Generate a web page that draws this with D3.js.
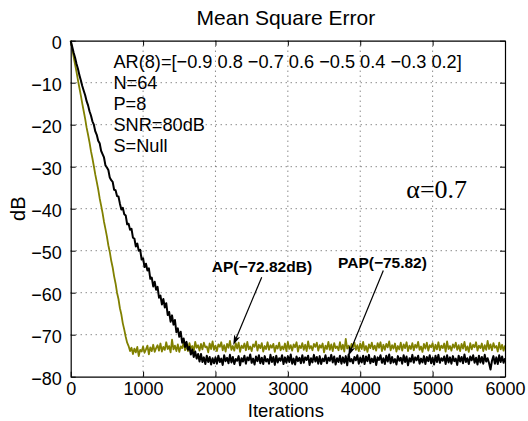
<!DOCTYPE html>
<html>
<head>
<meta charset="utf-8">
<script src="https://cdn.jsdelivr.net/npm/d3@7"></script>
<style>
  html, body { margin: 0; padding: 0; background: #fff; }
  svg { display: block; font-family: "Liberation Sans", Arial, Helvetica, sans-serif; }
</style>
</head>
<body>
<svg id="chart" width="528" height="421"></svg>
<script>
// Learning curves (MSE in dB) of the AP and PAP adaptive filters.
const title = "Mean Square Error";
const xLabel = "Iterations";
const yLabel = "dB";
const xTicks = [0, 1000, 2000, 3000, 4000, 5000, 6000];
const yTicks = [0, -10, -20, -30, -40, -50, -60, -70, -80];
const sampleStep = 20; // iterations between stored samples

// AP learning curve, one sample every 20 iterations (0 .. 6000)
const apMSE = [
  0, -1.9, -3.8, -5.6, -7.4, -9.4, -11.2, -13.0, -15.0, -16.8,
  -18.6, -20.7, -22.4, -24.2, -26.3, -28.0, -29.9, -31.9, -33.6, -35.4,
  -37.5, -39.2, -41.0, -43.1, -44.8, -46.6, -48.7, -50.3, -52.4, -54.0,
  -56.1, -57.8, -60.0, -61.5, -63.7, -65.2, -67.3, -68.8, -70.5, -71.9,
  -72.7, -73.9, -73.1, -74.6, -73.3, -74.2, -72.9, -75.1, -73.6, -74.0,
  -72.8, -74.3, -73.5, -72.6, -74.7, -73.0, -73.9, -72.4, -74.1, -73.2,
  -72.5, -73.8, -72.1, -74.0, -72.9, -73.6, -71.8, -73.4, -72.7, -74.2,
  -71.2, -73.5, -72.6, -73.9, -72.3, -74.1, -72.8, -73.2, -71.9, -73.7,
  -72.4, -73.9, -72.0, -73.3, -72.7, -74.0, -71.7, -73.1, -72.5, -73.8,
  -72.2, -73.5, -71.9, -73.0, -72.8, -74.2, -72.1, -73.4, -71.6, -73.6,
  -72.6, -73.9, -72.3, -72.9, -71.8, -73.7, -72.5, -74.0, -72.2, -73.1,
  -71.5, -73.6, -72.7, -73.8, -72.0, -73.3, -71.9, -74.1, -72.6, -73.2,
  -72.1, -73.7, -71.7, -73.5, -72.8, -73.9, -72.3, -72.9, -71.6, -73.8,
  -72.4, -73.2, -72.0, -74.0, -72.7, -73.4, -71.8, -73.6, -72.5, -73.1,
  -72.2, -74.1, -72.6, -73.3, -71.9, -73.7, -72.8, -73.5, -72.1, -73.9,
  -71.7, -73.4, -72.5, -73.8, -72.3, -73.0, -71.8, -74.0, -72.6, -73.2,
  -72.0, -73.6, -72.4, -73.9, -71.6, -73.3, -72.7, -73.7, -72.2, -72.9,
  -71.9, -73.8, -72.5, -73.1, -72.1, -74.2, -72.6, -73.4, -71.7, -73.6,
  -72.3, -73.9, -72.0, -73.2, -72.8, -73.7, -71.8, -73.5, -72.4, -74.0,
  -71.0, -73.3, -72.6, -73.8, -72.2, -73.0, -71.9, -73.6, -72.5, -73.9,
  -72.1, -73.4, -71.7, -73.7, -72.7, -74.1, -72.3, -73.2, -71.9, -73.5,
  -72.6, -73.8, -72.0, -73.1, -71.8, -73.9, -72.4, -73.6, -72.2, -73.0,
  -71.6, -73.7, -72.5, -73.3, -72.1, -74.0, -72.7, -73.5, -71.9, -73.8,
  -72.3, -73.2, -71.8, -73.9, -72.6, -73.4, -72.0, -73.7, -72.4, -73.1,
  -71.7, -73.6, -72.8, -74.1, -72.2, -73.3, -71.9, -73.8, -72.5, -73.0,
  -72.0, -73.9, -72.4, -73.5, -71.8, -73.7, -72.6, -73.2, -72.1, -74.0,
  -71.6, -73.4, -72.7, -73.8, -72.3, -73.1, -71.9, -73.6, -72.5, -73.9,
  -72.2, -73.3, -71.7, -73.7, -72.8, -74.1, -72.0, -73.5, -72.4, -73.0,
  -71.8, -73.8, -72.6, -73.2, -72.1, -73.9, -72.5, -73.6, -71.5, -73.4,
  -72.3, -73.7, -72.0, -73.1, -72.7, -74.0, -71.9, -73.5, -72.4, -73.8,
  -72.6
];

// PAP learning curve, one sample every 20 iterations (0 .. 6000)
const papMSE = [
  0, -1.4, -2.8, -4.0, -5.5, -6.7, -8.2, -9.4, -10.8, -11.9,
  -13.0, -14.4, -15.4, -16.8, -17.8, -19.2, -20.0, -21.6, -22.4, -23.8,
  -24.4, -26.2, -27.0, -27.8, -29.7, -30.2, -30.8, -32.6, -33.2, -33.6,
  -35.5, -35.6, -37.0, -37.1, -38.8, -40.2, -39.8, -41.3, -41.6, -43.7,
  -43.6, -45.0, -44.8, -46.9, -47.1, -49.0, -48.3, -50.0, -49.8, -52.1,
  -51.8, -53.9, -53.1, -54.7, -54.2, -56.7, -56.4, -58.5, -57.4, -59.3,
  -58.6, -61.2, -60.7, -62.8, -61.5, -63.5, -62.5, -65.3, -64.6, -66.9,
  -65.4, -67.6, -66.5, -69.4, -68.5, -70.5, -69.3, -71.9, -70.9, -72.9,
  -71.7, -73.6, -72.9, -74.7, -73.5, -75.3, -74.0, -75.7, -74.6, -76.4,
  -74.6, -76.5, -75.4, -77.0, -75.0, -76.5, -75.3, -77.1, -75.6, -76.8,
  -75.4, -76.9, -75.0, -76.5, -75.7, -77.2, -74.9, -76.3, -75.5, -76.8,
  -74.8, -76.6, -75.3, -77.0, -75.8, -76.2, -75.1, -77.3, -75.6, -76.4,
  -75.0, -76.9, -75.4, -76.1, -74.7, -76.7, -75.7, -77.1, -75.2, -76.3,
  -74.9, -76.8, -75.5, -77.0, -75.1, -76.4, -75.8, -76.9, -74.8, -76.5,
  -75.3, -77.2, -75.0, -76.6, -75.6, -76.2, -74.9, -77.0, -75.4, -76.7,
  -75.1, -76.5, -74.7, -76.9, -75.7, -77.1, -75.2, -76.3, -75.5, -76.8,
  -74.9, -76.7, -75.4, -76.0, -75.0, -77.2, -75.6, -76.6, -74.8, -76.4,
  -75.3, -76.9, -75.1, -77.0, -75.7, -76.3, -74.9, -76.8, -75.5, -76.2,
  -74.8, -76.6, -75.2, -77.1, -75.6, -76.5, -75.0, -76.9, -75.4, -76.7,
  -75.1, -77.3, -74.7, -76.4, -75.8, -76.8, -75.3, -76.1, -74.9, -76.9,
  -75.5, -76.6, -75.0, -77.0, -75.2, -76.3, -74.8, -76.8, -75.7, -76.5,
  -75.1, -77.2, -75.4, -76.0, -74.9, -76.7, -75.6, -77.0, -75.0, -76.4,
  -74.7, -76.8, -75.3, -76.6, -75.8, -77.1, -75.1, -76.2, -75.5, -76.9,
  -74.9, -76.5, -75.2, -77.3, -75.6, -76.4, -74.8, -76.7, -75.4, -76.1,
  -75.0, -76.9, -75.7, -76.6, -75.1, -77.0, -75.3, -76.3, -74.9, -76.8,
  -75.5, -77.1, -75.0, -76.5, -74.8, -76.7, -75.6, -76.2, -75.2, -77.0,
  -74.9, -76.6, -75.4, -76.9, -75.1, -76.3, -75.7, -77.2, -75.0, -76.4,
  -75.3, -76.8, -74.7, -76.5, -75.6, -77.0, -75.2, -76.1, -74.9, -76.7,
  -75.5, -77.1, -75.0, -76.6, -75.3, -76.9, -74.8, -76.4, -75.6, -76.8,
  -78.3, -76.2, -75.1, -76.9, -75.4, -77.0, -74.9, -76.5, -75.2, -76.7,
  -75.6
];

const infoLines = [
  "AR(8)=[\u22120.9 0.8 \u22120.7 0.6 \u22120.5 0.4 \u22120.3 0.2]",
  "N=64",
  "P=8",
  "SNR=80dB",
  "S=Null"
];
const stepSizeLabel = "\u03b1=0.7";
const apSteady = -72.82;
const papSteady = -75.82;

const colors = { ap: "#808000", pap: "#000000" };

const svg = d3.select("#chart");
const plot = { left: 70.7, right: 505, top: 40.7, bottom: 376.7 };

const x = d3.scaleLinear().domain([0, 6000]).range([plot.left, plot.right]);
const y = d3.scaleLinear().domain([-80, 0]).range([plot.bottom, plot.top]);

const fmt = v => String(v).replace("-", "\u2212");

// dotted grid
const grid = svg.append("g");
grid.selectAll("line.gx").data(xTicks.slice(1, -1)).join("line")
  .attr("x1", d => x(d)).attr("x2", d => x(d))
  .attr("y1", plot.top).attr("y2", plot.bottom)
  .attr("stroke", "#555").attr("stroke-width", 1)
  .attr("stroke-dasharray", "1,4");
grid.selectAll("line.gy").data(yTicks.slice(1, -1)).join("line")
  .attr("y1", d => y(d)).attr("y2", d => y(d))
  .attr("x1", plot.left).attr("x2", plot.right)
  .attr("stroke", "#555").attr("stroke-width", 1)
  .attr("stroke-dasharray", "1,4");

// curves
const line = d3.line()
  .x((d, i) => x(i * sampleStep))
  .y(d => y(d));

svg.append("path").datum(apMSE)
  .attr("d", line)
  .attr("fill", "none")
  .attr("stroke", colors.ap)
  .attr("stroke-width", 1.8)
  .attr("stroke-linejoin", "round");

svg.append("path").datum(papMSE)
  .attr("d", line)
  .attr("fill", "none")
  .attr("stroke", colors.pap)
  .attr("stroke-width", 2)
  .attr("stroke-linejoin", "round");

// axes box with inward ticks on all sides
const tickLen = 5;
const axBottom = d3.axisBottom(x).tickValues(xTicks).tickSizeInner(-tickLen).tickSizeOuter(0)
  .tickPadding(6).tickFormat(d => fmt(d));
const axTop = d3.axisTop(x).tickValues(xTicks).tickSizeInner(-tickLen).tickSizeOuter(0).tickFormat("");
const axLeft = d3.axisLeft(y).tickValues(yTicks).tickSizeInner(-tickLen).tickSizeOuter(0)
  .tickPadding(9).tickFormat(d => fmt(d));
const axRight = d3.axisRight(y).tickValues(yTicks).tickSizeInner(-tickLen).tickSizeOuter(0).tickFormat("");

function styleAxis(g) {
  g.select(".domain").attr("stroke", "#000").attr("stroke-width", 1.2);
  g.selectAll(".tick line").attr("stroke", "#000").attr("stroke-width", 1);
  g.selectAll(".tick text").attr("fill", "#000")
    .attr("font-family", "Liberation Sans, Arial, sans-serif").attr("font-size", 18);
}

svg.append("g").attr("transform", `translate(0,${plot.bottom})`).call(axBottom).call(styleAxis);
svg.append("g").attr("transform", `translate(0,${plot.top})`).call(axTop).call(styleAxis);
svg.append("g").attr("transform", `translate(${plot.left},0)`).call(axLeft).call(styleAxis)
  .selectAll(".tick text").attr("dy", "0.45em");
svg.append("g").attr("transform", `translate(${plot.right},0)`).call(axRight).call(styleAxis);

// title and axis labels
svg.append("text").attr("x", (plot.left + plot.right) / 2 - 2).attr("y", 25)
  .attr("text-anchor", "middle").attr("font-size", 21).text(title);
svg.append("text").attr("x", (plot.left + plot.right) / 2 - 2).attr("y", 416.5)
  .attr("text-anchor", "middle").attr("font-size", 18.5).text(xLabel);
svg.append("text")
  .attr("transform", `translate(25,${(plot.top + plot.bottom) / 2}) rotate(-90)`)
  .attr("text-anchor", "middle").attr("font-size", 20).text(yLabel);

// simulation settings
svg.append("g").selectAll("text").data(infoLines).join("text")
  .attr("x", x(590))
  .attr("y", (d, i) => y(-6.6 - 5 * i))
  .attr("font-size", 18.2)
  .text(d => d);

svg.append("text")
  .attr("x", x(4637)).attr("y", y(-37.4))
  .attr("font-family", "Liberation Serif, Times New Roman, serif")
  .attr("font-size", 26)
  .text(stepSizeLabel);

// steady-state annotations with arrows
const notes = [
  { label: `AP(${fmt(apSteady)}dB)`, tx: 1948, ty: -55.1, from: [2639, -56.3], to: [2246, apSteady + 0.35] },
  { label: `PAP(${fmt(papSteady)})`, tx: 3693, ty: -54.1, from: [4319, -54.7], to: [3835, papSteady + 0.75] }
];

const ng = svg.append("g");
notes.forEach(n => {
  ng.append("text").attr("x", x(n.tx)).attr("y", y(n.ty))
    .attr("font-size", 15.5).attr("font-weight", "bold").text(n.label);
  const x1 = x(n.from[0]), y1 = y(n.from[1]), x2 = x(n.to[0]), y2 = y(n.to[1]);
  const ang = Math.atan2(y2 - y1, x2 - x1);
  const L = 10, hw = 3.2, back = 7.5;
  const bx = x2 - L * Math.cos(ang), by = y2 - L * Math.sin(ang);
  const nx = -Math.sin(ang), ny = Math.cos(ang);
  const nxp = x2 - back * Math.cos(ang), nyp = y2 - back * Math.sin(ang);
  ng.append("line")
    .attr("x1", x1).attr("y1", y1)
    .attr("x2", nxp).attr("y2", nyp)
    .attr("stroke", "#000").attr("stroke-width", 1.2);
  ng.append("path")
    .attr("d", `M${x2},${y2}L${bx + hw * nx},${by + hw * ny}L${nxp},${nyp}L${bx - hw * nx},${by - hw * ny}Z`)
    .attr("fill", "#000");
});
</script>
</body>
</html>
